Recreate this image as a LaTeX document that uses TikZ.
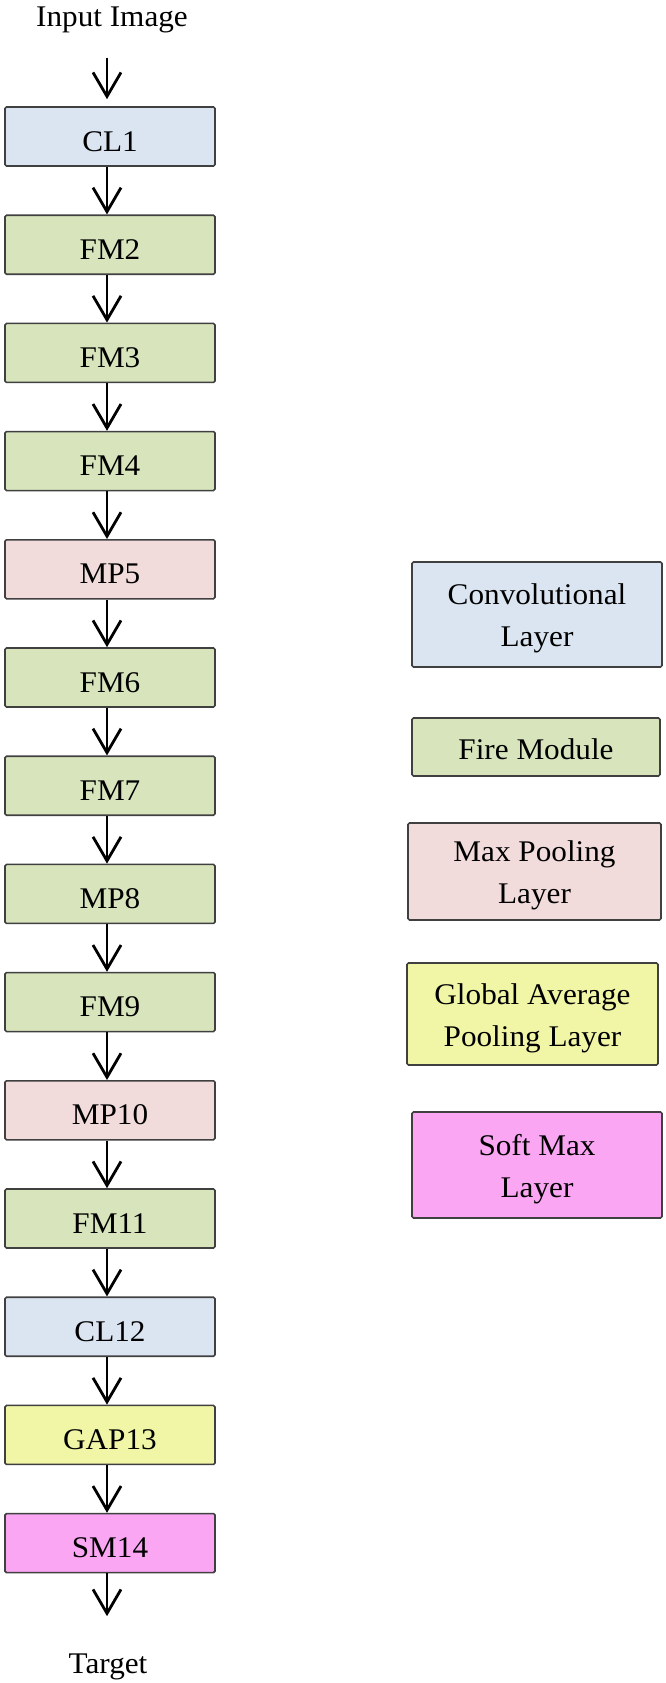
\documentclass[tikz,border=0pt]{standalone}
\usepackage{fontspec}
\setmainfont[FakeStretch=1.04]{Liberation Serif}
\usetikzlibrary{arrows.meta}
\definecolor{convc}{HTML}{DBE5F1}
\definecolor{firec}{HTML}{D7E4BC}
\definecolor{mpc}{HTML}{F2DCDB}
\definecolor{gapc}{HTML}{F1F6A6}
\definecolor{smc}{HTML}{FAA6F3}
\definecolor{edgec}{HTML}{404040}
\newcommand{\mytstrut}{\rule{0pt}{29pt}}
\begin{document}
\begin{tikzpicture}[x=1pt,y=-1pt,
  txt/.style={font=\fontsize{30}{42}\selectfont, inner sep=0pt},
  layer/.style={txt, draw=edgec, line width=1.6pt, rounded corners=1.5pt,
    minimum width=210pt, minimum height=59pt, text height=29pt, text depth=0pt},
  legbox/.style={txt, draw=edgec, line width=1.6pt, rounded corners=1.5pt, align=center},
  arr/.style={line width=2.8pt, -{Straight Barb[length=24pt,width=28pt,line width=2.8pt]}},
  col/.style={xshift=-3pt},
]
\useasboundingbox (0,0) rectangle (666,1683);
% column
\node[txt, anchor=base] (in) at (112,27) {Input Image};
\node[layer, fill=convc] (n1)  at (110,136.5) {CL1};
\node[layer, fill=firec] (n2)  at (110,244.7) {FM2};
\node[layer, fill=firec] (n3)  at (110,352.9) {FM3};
\node[layer, fill=firec] (n4)  at (110,461.1) {FM4};
\node[layer, fill=mpc]   (n5)  at (110,569.3) {MP5};
\node[layer, fill=firec] (n6)  at (110,677.5) {FM6};
\node[layer, fill=firec] (n7)  at (110,785.7) {FM7};
\node[layer, fill=firec] (n8)  at (110,893.9) {MP8};
\node[layer, fill=firec] (n9)  at (110,1002.1) {FM9};
\node[layer, fill=mpc]   (n10) at (110,1110.3) {MP10};
\node[layer, fill=firec] (n11) at (110,1218.5) {FM11};
\node[layer, fill=convc] (n12) at (110,1326.7) {CL12};
\node[layer, fill=gapc]  (n13) at (110,1434.9) {GAP13};
\node[layer, fill=smc]   (n14) at (110,1543.1) {SM14};
\node[txt, anchor=base] (out) at (108,1673) {Target};
% connectors
\draw[arr, shorten <=24pt, shorten >=7pt] ([col]in.south -| n1.north) -- ([col]n1.north);
\foreach \a/\b in {n1/n2,n2/n3,n3/n4,n4/n5,n5/n6,n6/n7,n7/n8,n8/n9,n9/n10,n10/n11,n11/n12,n12/n13,n13/n14}
  \draw[arr] ([col]\a.south) -- ([col]\b.north);
\draw[arr, shorten >=37pt] ([col]n14.south) -- ([col]n14.south |- out.north);
% legend
\node[legbox, fill=convc, minimum width=250pt, minimum height=105pt] (l1) at (537,614.5) {\mytstrut Convolutional\\Layer};
\node[legbox, fill=firec, minimum width=248pt, minimum height=58pt] (l2) at (536,747) {\rule{0pt}{26pt}Fire Module};
\node[legbox, fill=mpc, minimum width=253pt, minimum height=97pt] (l3) at (534.5,871.5) {\mytstrut Max Pooling\\Layer};
\node[legbox, fill=gapc, minimum width=251pt, minimum height=102pt] (l4) at (532.5,1014) {\mytstrut Global Average\\Pooling Layer};
\node[legbox, fill=smc, minimum width=250pt, minimum height=106pt] (l5) at (537,1165) {\mytstrut Soft Max\\Layer};
\end{tikzpicture}
\end{document}
